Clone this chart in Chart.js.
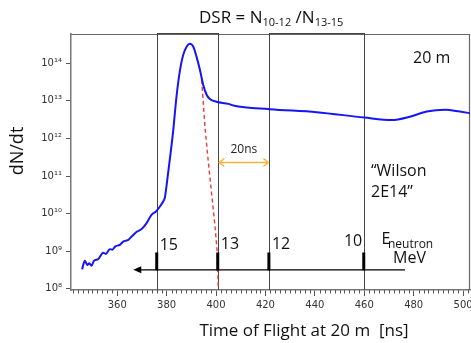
<!DOCTYPE html>
<html><head><meta charset="utf-8">
<script src="https://cdn.jsdelivr.net/npm/chart.js@4/dist/chart.umd.min.js"></script>
<style>html,body{margin:0;padding:0;background:#fff}canvas{display:block}</style>
</head><body>
<canvas id="c" width="471" height="343"></canvas>
<script>
// ---- data ----
const tofBlue = [345.8,346.9,347.9,348.7,349.6,350.6,352.3,354.3,355.4,357.0,358.1,359.1,361.1,362.4,364.5,365.8,367.9,369.9,371.9,373.9,375.7,377.3,378.6,379.3,380.6,381.6,382.7,384.0,385.4,386.7,388.1,389.4,390.8,392.1,393.5,394.8,396.2,397.5,400.2,405.0,407.0,421.8,440.7,460.0,471.1,478.5,485.3,492.7,498.7,502.8];
const dndtBlue = [3.3e8,5.6e8,4.3e8,4.8e8,4.1e8,5.6e8,6.2e8,9.2e8,8.5e8,1.14e9,1.1e9,1.33e9,1.48e9,1.8e9,2.0e9,2.45e9,3.3e9,3.9e9,5.6e9,9.3e9,1.14e10,1.55e10,2.1e10,2.7e10,1.2e11,4.0e11,1.7e12,1.3e13,6.5e13,1.66e14,2.75e14,3.3e14,2.75e14,1.5e14,6.6e13,2.7e13,1.45e13,1.12e13,9.5e12,8.3e12,7.5e12,6.0e12,5.0e12,3.6e12,3.1e12,3.8e12,5.2e12,5.8e12,5.2e12,4.7e12];
const tofRed = [394.2,395.5,396.8,398.2,399.6,400.5,400.9];
const dndtRed = [3.6e13,2.1e12,2.7e11,3.5e10,4.6e9,9e8,9.4e7];
const boxEdges = [376.2,400.9,421.6,460.0];          // TOF of neutron energies
const energyLabels = ['15','13','12','10'];          // MeV
const xTickValues = [360,380,400,420,440,460,480,500];
const yTickValues = [1e8,1e9,1e10,1e11,1e12,1e13,1e14];
const arrowLevel = 3.2e8, tickTop = 9.3e8, arrowStart = 476.5, arrowEnd = 366.5;
const gapLevel = 2.3e11;

const SUP = {'0':'⁰','1':'¹','2':'²','3':'³','4':'⁴','5':'⁵','6':'⁶','7':'⁷','8':'⁸','9':'⁹'};
const supStr = s => String(s).split('').map(ch=>SUP[ch]||ch).join('');
const FONT = '"Open Sans", "Noto Sans", sans-serif';

const overlay = {
  id:'overlay',
  beforeDatasetsDraw(chart){
    const {ctx, chartArea:a, scales:{x,y}} = chart;
    ctx.save();
    // frame
    ctx.strokeStyle='#666'; ctx.lineWidth=1.2;
    ctx.beginPath(); ctx.moveTo(a.left,a.top+0.5); ctx.lineTo(a.right,a.top+0.5);
    ctx.moveTo(a.right-0.5,a.top); ctx.lineTo(a.right-0.5,a.bottom); ctx.stroke();
    // box edges
    ctx.strokeStyle='#444'; ctx.lineWidth=1;
    boxEdges.forEach(v=>{const px=Math.round(x.getPixelForValue(v))+0.5;
      ctx.beginPath(); ctx.moveTo(px,a.top-1); ctx.lineTo(px,a.bottom); ctx.stroke();});
    // box tops
    ctx.beginPath();
    ctx.moveTo(x.getPixelForValue(boxEdges[0]),a.top-0.5); ctx.lineTo(x.getPixelForValue(boxEdges[1]),a.top-0.5);
    ctx.moveTo(x.getPixelForValue(boxEdges[2]),a.top-0.5); ctx.lineTo(x.getPixelForValue(boxEdges[3]),a.top-0.5);
    ctx.stroke();
    // minor x ticks
    ctx.strokeStyle='#555'; ctx.lineWidth=1;
    for(let v=342; v<=502; v+=2){ if(v%20===0) continue;
      const px=Math.round(x.getPixelForValue(v))+0.5;
      ctx.beginPath(); ctx.moveTo(px,a.bottom); ctx.lineTo(px,a.bottom+3.5); ctx.stroke(); }
    ctx.restore();
  },
  afterDatasetsDraw(chart){
    const {ctx, chartArea:a, scales:{x,y}} = chart;
    ctx.save();
    // energy arrow
    const ay = y.getPixelForValue(arrowLevel);
    const ax0 = x.getPixelForValue(arrowStart), ax1 = x.getPixelForValue(arrowEnd);
    ctx.strokeStyle='#000'; ctx.fillStyle='#000'; ctx.lineWidth=1.2;
    ctx.beginPath(); ctx.moveTo(ax0,ay); ctx.lineTo(ax1+6,ay); ctx.stroke();
    ctx.beginPath(); ctx.moveTo(ax1,ay); ctx.lineTo(ax1+8,ay-3.5); ctx.lineTo(ax1+8,ay+3.5); ctx.closePath(); ctx.fill();
    // thick ticks
    const ty = y.getPixelForValue(tickTop);
    ctx.lineWidth=3;
    boxEdges.forEach(v=>{const px=x.getPixelForValue(v)-0.5;
      ctx.beginPath(); ctx.moveTo(px,ty); ctx.lineTo(px,ay+0.5); ctx.stroke();});
    // energy labels
    ctx.fillStyle='#111'; ctx.font='16px '+FONT; ctx.textBaseline='alphabetic';
    energyLabels.forEach((t,i)=>{
      const px=x.getPixelForValue(boxEdges[i]);
      if(i===3){ ctx.textAlign='right'; ctx.fillText(t,px-2,246); }
      else { ctx.textAlign='left'; ctx.fillText(t,px+2.5,i===0?250:249); }
    });
    ctx.textAlign='left';
    ctx.fillText('E',381.5,244);
    ctx.font='12px '+FONT; ctx.fillText('neutron',388,248);
    ctx.font='16px '+FONT; ctx.fillText('MeV',393,263);
    // 20 ns arrow
    const gy = y.getPixelForValue(gapLevel);
    const g0 = x.getPixelForValue(boxEdges[1])+1, g1 = x.getPixelForValue(boxEdges[2])-1;
    ctx.strokeStyle='#F6B53A'; ctx.lineWidth=1.5;
    ctx.beginPath(); ctx.moveTo(g0,gy); ctx.lineTo(g1,gy);
    ctx.moveTo(g0+5,gy-4); ctx.lineTo(g0,gy); ctx.lineTo(g0+5,gy+4);
    ctx.moveTo(g1-5,gy-4); ctx.lineTo(g1,gy); ctx.lineTo(g1-5,gy+4);
    ctx.stroke();
    ctx.fillStyle='#222'; ctx.font='12px '+FONT; ctx.textAlign='center';
    ctx.fillText('20ns',(g0+g1)/2,153);
    // other annotations
    ctx.fillStyle='#111'; ctx.textAlign='left'; ctx.font='16px '+FONT;
    ctx.fillText('20 m',413,63);
    ctx.fillText('\u201CWilson',371,176);
    ctx.fillText('2E14\u201D',371,197);
    // title
    let tx=199; const tb=23;
    const parts=[['DSR = N',17,0],['10-12',11,3],[' /N',17,0],['13-15',11,3]];
    parts.forEach(([t,s,d])=>{ctx.font=s+'px '+FONT; ctx.fillText(t,tx,tb+d); tx+=ctx.measureText(t).width;});
    // axis titles
    ctx.font='17px '+FONT; ctx.textAlign='center';
    ctx.fillText('Time of Flight at 20 m  [ns]',304,336);
    ctx.translate(23,151); ctx.rotate(-Math.PI/2);
    ctx.font='18px '+FONT; ctx.fillText('dN/dt',0,0);
    ctx.restore();
  }
};

new Chart(document.getElementById('c'), {
  type:'line',
  data:{datasets:[
    {data:tofBlue.map((v,i)=>({x:v,y:dndtBlue[i]})), borderColor:'#1515F5', borderWidth:2, pointRadius:0, cubicInterpolationMode:'monotone'},
    {data:tofRed.map((v,i)=>({x:v,y:dndtRed[i]})), borderColor:'#F03A3A', borderWidth:1.4, borderDash:[4,3], pointRadius:0, tension:0}
  ]},
  options:{
    responsive:false, animation:false, devicePixelRatio:1,
    layout:{padding:{top:34,left:0,right:1,bottom:0}},
    plugins:{legend:{display:false}, title:{display:false}, tooltip:{enabled:false}},
    scales:{
      x:{type:'linear', min:341.3, max:502.8,
        afterBuildTicks:s=>{s.ticks=xTickValues.map(v=>({value:v}));},
        afterFit:s=>{s.height=53; s.paddingLeft=0; s.paddingRight=0;},
        border:{color:'#777', width:1.5},
        grid:{drawOnChartArea:false, tickLength:6, color:'#555'},
        ticks:{font:{family:'"DejaVu Sans"',size:10}, color:'#333', padding:3, maxRotation:0, autoSkip:false}},
      y:{type:'logarithmic', min:9.33e7, max:6.0e14,
        afterBuildTicks:s=>{s.ticks=yTickValues.map(v=>({value:v}));},
        afterFit:s=>{s.width=71; s.paddingTop=0; s.paddingBottom=0;},
        border:{color:'#777', width:1.5},
        grid:{drawOnChartArea:false, tickLength:5, color:'#555'},
        ticks:{font:{family:'"DejaVu Sans"',size:10}, color:'#333', padding:4,
          callback:v=>'10'+supStr(Math.round(Math.log10(v)))}}
    }
  },
  plugins:[overlay]
});
</script>
</body></html>
